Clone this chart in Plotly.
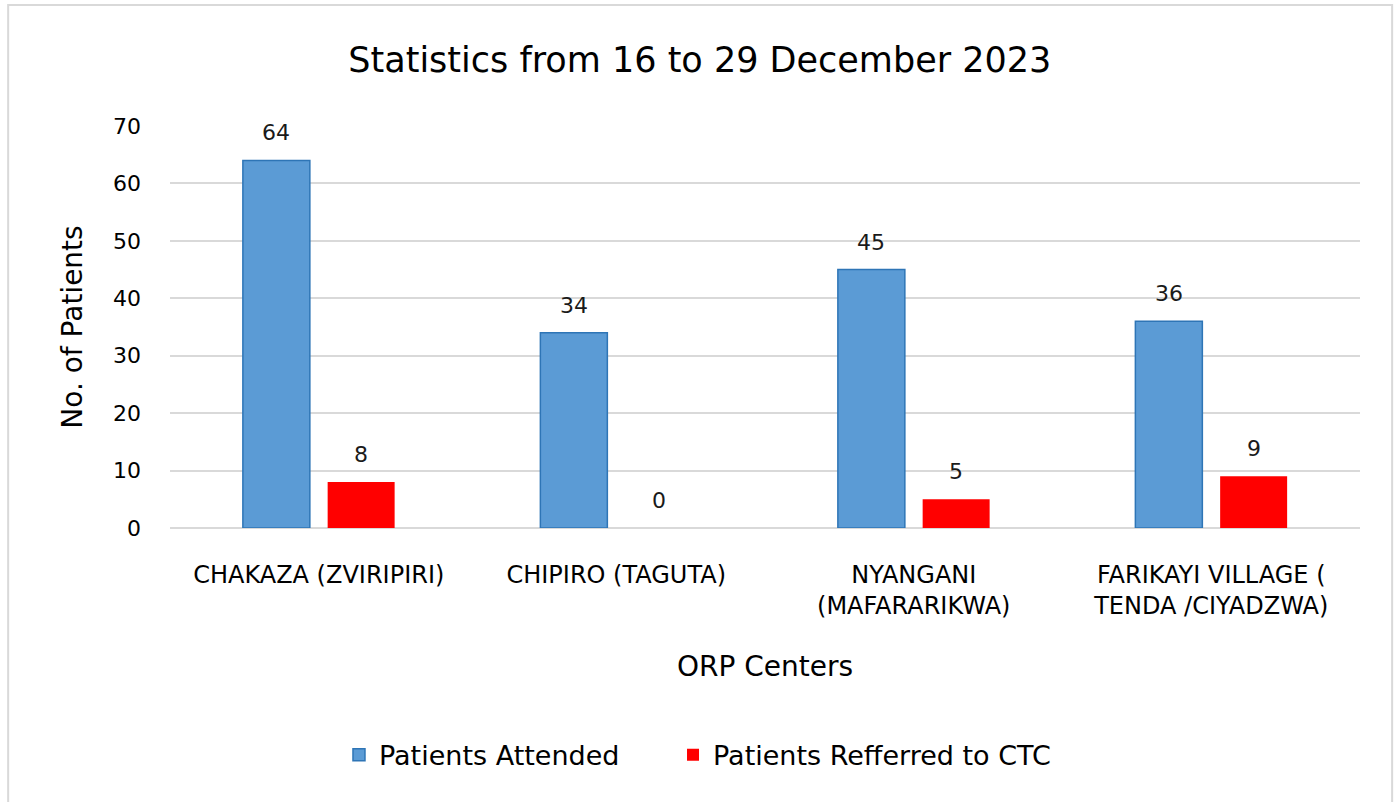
import plotly.graph_objects as go

categories = [
    "CHAKAZA (ZVIRIPIRI)",
    "CHIPIRO (TAGUTA)",
    "NYANGANI<br>(MAFARARIKWA)",
    "FARIKAYI VILLAGE (<br>TENDA /CIYADZWA)",
]
attended = [64, 34, 45, 36]
referred = [8, 0, 5, 9]
y_ticks = [0, 10, 20, 30, 40, 50, 60, 70]

FONT = "DejaVu Sans, Open Sans, sans-serif"
TXT = "#1a1a1a"

fig = go.Figure()
fig.add_trace(go.Bar(
    x=categories, y=attended, name="Patients Attended",
    marker=dict(color="#5B9BD5", line=dict(color="#2E75B6", width=1.5)),
    hoverinfo="x+y", legend="legend",
))
fig.add_trace(go.Bar(
    x=categories, y=referred, name="Patients Refferred to CTC",
    marker=dict(color="#FF0000", line=dict(color="#FF0000", width=0)),
    hoverinfo="x+y", legend="legend2",
))

# value labels above each bar
for series, shift in ((attended, -42.5), (referred, 42.5)):
    for cat, val in zip(categories, series):
        fig.add_annotation(
            x=cat, y=val, text=str(val), showarrow=False,
            xshift=shift, yshift=13, yanchor="bottom",
            font=dict(size=22, color=TXT, family=FONT),
        )

# chart-area border
fig.add_shape(
    type="rect", xref="paper", yref="paper",
    x0=-0.136, x1=1.027, y0=-0.69, y1=1.301,
    line=dict(color="#d9d9d9", width=2), fillcolor="rgba(0,0,0,0)",
    layer="below",
)

legend_style = dict(
    orientation="h", xanchor="left", y=-0.565, yanchor="middle",
    font=dict(size=27, color="#000"), itemwidth=30,
)

fig.update_layout(
    width=1394, height=802,
    font=dict(family=FONT, color=TXT, size=22),
    title=dict(
        text="Statistics from 16 to 29 December 2023",
        x=0.502, xref="container", xanchor="center",
        y=0.925, yref="container", yanchor="middle",
        font=dict(size=35, color="#000000"),
    ),
    barmode="group", bargap=0.43, bargroupgap=0.21,
    plot_bgcolor="white", paper_bgcolor="white",
    margin=dict(l=170, r=34, t=126, b=274),
    xaxis=dict(
        title=dict(text="ORP Centers", standoff=37, font=dict(size=28, color="#000")),
        tickfont=dict(size=24, color="#000"),
        showline=False, ticks="", ticklabelstandoff=30,
    ),
    yaxis=dict(
        title=dict(text="No. of Patients", standoff=22, font=dict(size=28, color="#000")),
        range=[0, 70], tickvals=y_ticks,
        tickfont=dict(size=22, color="#000"),
        showgrid=True, gridcolor="#d9d9d9", gridwidth=1.5,
        zeroline=True, zerolinecolor="#d9d9d9", zerolinewidth=1.5,
        ticks="", ticklabelstandoff=28,
    ),
    legend=dict(x=0.142, **legend_style),
    legend2=dict(x=0.4227, **legend_style),
    showlegend=True,
)

fig.write_html(
    "out.html",
    config={"displayModeBar": False},
    post_script="document.body.style.margin='0';",
)
